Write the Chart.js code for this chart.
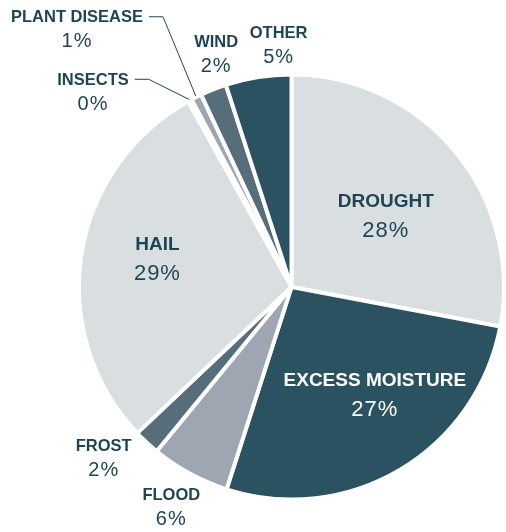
<!DOCTYPE html>
<html>
<head>
<meta charset="utf-8">
<script src="https://cdn.jsdelivr.net/npm/chart.js@4"></script>
<style>
  html, body { margin: 0; padding: 0; background: #fff; }
  #wrap { width: 506px; height: 532px; position: relative; }
</style>
</head>
<body>
<div id="wrap"><canvas id="lossChart"></canvas></div>
<script>
// causes of loss, clockwise from 12 o'clock
const causes = ['DROUGHT', 'EXCESS MOISTURE', 'FLOOD', 'FROST', 'HAIL', 'INSECTS', 'PLANT DISEASE', 'WIND', 'OTHER'];
const shares = [28, 27, 6, 2, 29, 0.3, 0.8, 2, 5];
const sliceColors = ['#d9dee0', '#2b5261', '#9ea7b1', '#566d7a', '#d9dee0', '#c9ced2', '#9ea7b1', '#566d7a', '#2b5261'];

const TEXT = '#1d4654';
const FONT = '"Liberation Sans", Arial, sans-serif';

// label placement, in units of pie radius from the centre (dx, dy), plus text colour
const labelLayout = {
    'DROUGHT':         { dx: 0.448,  dy: -0.337, inner: true, color: TEXT },
    'EXCESS MOISTURE': { dx: 0.396,  dy: 0.514,  inner: true, color: '#ffffff' },
    'HAIL':            { dx: -0.637, dy: -0.132, inner: true, color: TEXT },
    'FROST':           { dx: -0.892, dy: 0.816 },
    'FLOOD':           { dx: -0.571, dy: 1.047 },
    'INSECTS':         { dx: -0.943, dy: -0.925, leader: true },
    'PLANT DISEASE':   { dx: -1.019, dy: -1.222, leader: true },
    'WIND':            { dx: -0.358, dy: -1.104 },
    'OTHER':           { dx: -0.061, dy: -1.146 }
};

const pieLabels = {
    id: 'pieLabels',
    afterDatasetsDraw(chart) {
        const ctx = chart.ctx;
        const arcs = chart.getDatasetMeta(0).data;
        const cx = arcs[0].x, cy = arcs[0].y, r = arcs[0].outerRadius - 2;
        ctx.save();
        ctx.textAlign = 'center';
        ctx.textBaseline = 'middle';
        arcs.forEach((arc, i) => {
            const name = causes[i];
            const lay = labelLayout[name];
            const x = cx + lay.dx * r, y = cy + lay.dy * r;
            const pct = Math.round(shares[i]) + '%';
            ctx.fillStyle = lay.color || TEXT;
            const big = lay.inner;
            const half = big ? 14.5 : 12;
            ctx.letterSpacing = '0px';
            ctx.font = 'bold ' + (big ? 19 : 16.5) + 'px ' + FONT;
            const tw = ctx.measureText(name).width;
            ctx.fillText(name, x, y - half);
            ctx.letterSpacing = '1px';
            ctx.font = (big ? 22 : 20) + 'px ' + FONT;
            ctx.fillText(pct, x, y + half);
            if (lay.leader) {
                // leader line: out from the title, short horizontal, then to the slice edge
                const sx = x + tw / 2 + 6, sy = y - half - 1;
                const a = (arc.startAngle + arc.endAngle) / 2;
                const ex = cx + (r + 3) * Math.cos(a), ey = cy + (r + 3) * Math.sin(a);
                ctx.strokeStyle = TEXT;
                ctx.lineWidth = 1;
                ctx.beginPath();
                ctx.moveTo(sx, sy);
                ctx.lineTo(sx + 14, sy);
                ctx.lineTo(ex, ey);
                ctx.stroke();
            }
        });
        ctx.restore();
    }
};

new Chart(document.getElementById('lossChart'), {
    type: 'pie',
    data: {
        labels: causes,
        datasets: [{
            data: shares,
            backgroundColor: sliceColors,
            borderColor: '#ffffff',
            borderWidth: 4,
            hoverOffset: 0
        }]
    },
    options: {
        responsive: true,
        maintainAspectRatio: false,
        animation: false,
        layout: {
            padding: { left: 77, right: -3, top: 71, bottom: 29 }
        },
        plugins: {
            legend: { display: false },
            tooltip: { enabled: false }
        }
    },
    plugins: [pieLabels]
});
</script>
</body>
</html>
